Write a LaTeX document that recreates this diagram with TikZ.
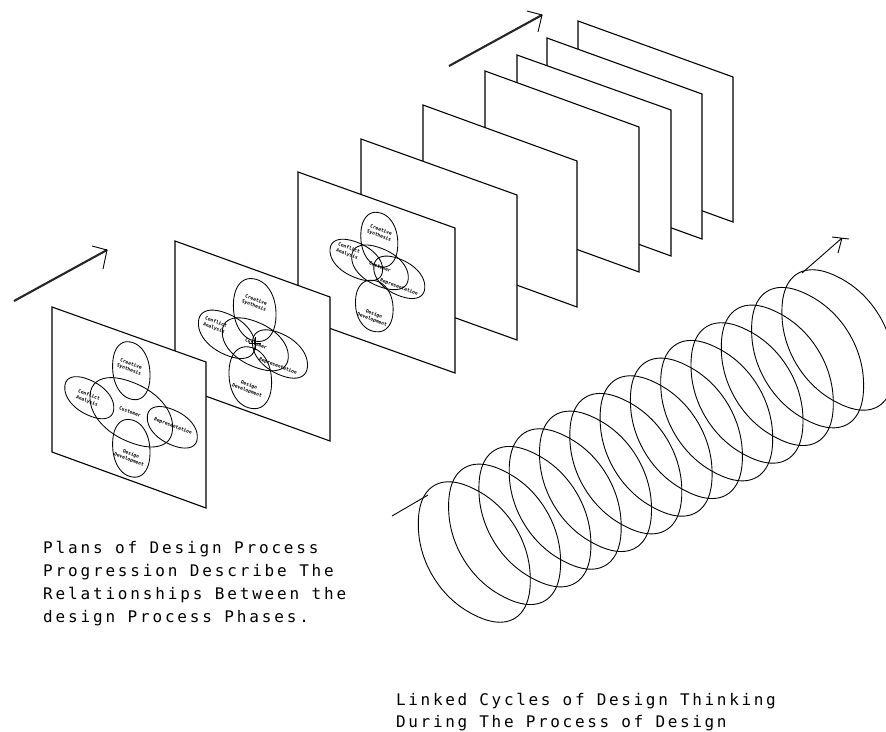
\documentclass[tikz,border=0pt]{standalone}
\usepackage{fontspec}
\newfontfamily\capfontL[LetterSpace=17.7]{DejaVu Sans Mono}
\newfontfamily\capfontR[LetterSpace=16.5]{DejaVu Sans Mono}
\newfontfamily\tinyfont{DejaVu Sans Mono}
\tikzset{
  x=1pt,y=-1pt,
  plane/.style={draw=black,fill=white,line width=1.1pt,line join=miter},
  loopline/.style={draw=black,line width=0.9pt},
  venn/.style={draw=black,line width=0.85pt},
  flowshaft/.style={draw=black!85,line width=2.1pt},
  flowhead/.style={draw=black,line width=0.9pt},
  caption/.style={align=left,inner sep=0pt,anchor=base west},
  capleft/.style={caption,font=\capfontL\fontsize{16}{22.7}\selectfont},
  capright/.style={caption,font=\capfontR\fontsize{16}{22}\selectfont},
  tag/.style={align=center,inner sep=0pt,rotate=-19.5,font=\tinyfont\bfseries\fontsize{4.7}{6}\selectfont}
}
% #2,#3 centre; #4 half width; #5 rise of the long axis; #6 vertical half axis
\newcommand{\skewloop}[6][venn]{%
  \draw[#1] plot[smooth cycle,samples=48,domain=3.75:356.25,variable=\t]
    ({#2+#4*sign(cos(\t))*pow(abs(cos(\t)),0.92)},
     {#3+#5*sign(cos(\t))*pow(abs(cos(\t)),0.92)+#6*sign(sin(\t))*pow(abs(sin(\t)),0.92)});}
\newcommand{\sheet}[8]{%
  \draw[plane] (#1,#2) -- (#3,#4) -- (#5,#6) -- (#7,#8) -- cycle;}
\begin{document}
\begin{tikzpicture}
\useasboundingbox (0,0) rectangle (886,731);
\begin{scope}
\clip (0,0) rectangle (886,731);
% sheets, back to front
\sheet{578}{21}{733}{77}{733}{222}{578}{166}
\sheet{547}{38}{702}{94}{702}{239}{547}{183}
\sheet{517}{55}{671}{110}{671}{256}{517}{200}
\sheet{485}{71}{639}{127}{639}{272}{485}{216}
\sheet{423}{105}{577}{161}{577}{307}{423}{251}
\sheet{361}{139}{517}{195}{517}{340}{361}{284}
\sheet{298}{172}{455}{228}{455}{373}{298}{317}
\sheet{175}{241}{330}{297}{330}{441}{175}{385}
\sheet{52}{307}{206}{362}{206}{508}{52}{452}
% sheet 3 loops
\skewloop{379.3}{239.7}{18.5}{4}{27}
\skewloop{356.3}{260}{26.3}{9.5}{18}
\skewloop{380}{267.3}{28.3}{10}{19.5}
\skewloop{399.3}{277.3}{25.5}{9.5}{18.5}
\skewloop{374.3}{306}{18.8}{3.5}{25.5}
% sheet 2 loops
\skewloop{254.7}{310}{21.3}{4.5}{31}
\skewloop{226.7}{334.3}{28.3}{11}{21}
\skewloop{255.3}{344.3}{33}{12}{23}
\skewloop{280}{354}{27.5}{11}{21}
\skewloop{250.3}{377.7}{21.3}{4.5}{30.5}
\coordinate (crossW) at (249.3,343.3);
\coordinate (crossE) at (260.7,343.3);
\coordinate (crossN) at (255,336.7);
\coordinate (crossS) at (255,350);
\draw[flowhead] (crossW) -- (crossE) (crossN) -- (crossS);
% sheet 1 loops
\skewloop{131.3}{370.7}{18.7}{4.5}{28.5}
\skewloop{89.3}{397.7}{24.5}{10}{18}
\skewloop{131.3}{412.3}{41.3}{15}{30.5}
\skewloop{172.3}{427.3}{25}{9.5}{18}
\skewloop{131.3}{448.3}{18.7}{4}{28.5}
% labels, sheet 1
\node[tag] (a1) at (130,367) {Creative\\Synthesis};
\node[tag] (a2) at (88,398) {Conflict\\Analysis};
\node[tag] (a3) at (130,412) {Customer};
\node[tag] (a4) at (173,426) {Representation};
\node[tag] (a5) at (130,457) {Design\\Development};
% labels, sheet 2
\node[tag] (b1) at (255,303) {Creative\\Synthesis};
\node[tag] (b2) at (215,325) {Conflict\\Analysis};
\node[tag] (b3) at (256,344) {Customer};
\node[tag] (b4) at (278,366) {Representation};
\node[tag] (b5) at (248,388) {Design\\Development};
% labels, sheet 3
\node[tag] (c1) at (380,233) {Creative\\Synthesis};
\node[tag] (c2) at (348,251) {Conflict\\Analysis};
\node[tag] (c3) at (380,267) {Customer};
\node[tag] (c4) at (399,287) {Representation};
\node[tag] (c5) at (373,317) {Design\\Development};
% linked cycles
\foreach \n in {0,...,12}{
  \pgfmathsetmacro{\cx}{474.3+30.3*\n}
  \pgfmathsetmacro{\cy}{552-17.67*\n}
  \skewloop[loopline]{\cx}{\cy}{56}{28}{63}
}
% loop lead-in and lead-out
\coordinate (inA) at (392,516);
\coordinate (inB) at (428,495);
\draw[flowhead] (inA) -- (inB);
\coordinate (outA) at (802,273);
\coordinate (outB) at (842,238);
\coordinate (outH1) at (832,237);
\coordinate (outH2) at (849,239);
\coordinate (outH3) at (838,253);
\draw[flowhead] (outA) -- (outB) (outH1) -- (outH2) (outB) -- (outH3);
% heavy direction arrows
\coordinate (lA) at (14,301);
\coordinate (lB) at (107,250);
\coordinate (lH1) at (92,246);
\coordinate (lH2) at (103,269);
\draw[flowshaft] (lA) -- (lB);
\draw[flowhead] (lH1) -- (lB) -- (lH2);
\coordinate (tA) at (449,66);
\coordinate (tB) at (542,15);
\coordinate (tH1) at (527,11);
\coordinate (tH2) at (538,32);
\draw[flowshaft] (tA) -- (tB);
\draw[flowhead] (tH1) -- (tB) -- (tH2);
\end{scope}
% captions
\node[capleft] (capL) at (43,622) {Plans of Design Process\\Progression Describe The\\Relationships Between the\\design Process Phases.};
\node[capright] (capR) at (396,727) {Linked Cycles of Design Thinking\\During The Process of Design};
\end{tikzpicture}
\end{document}
